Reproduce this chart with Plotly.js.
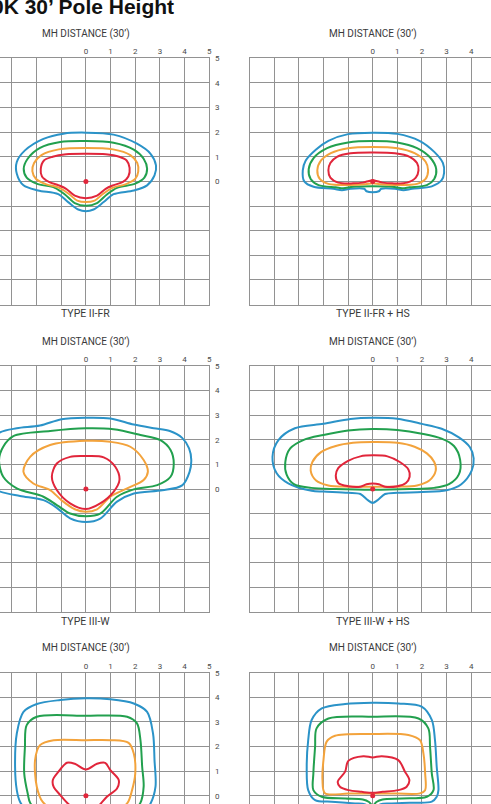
<!DOCTYPE html>
<html>
<head>
<meta charset="utf-8">
<script src="https://cdn.plot.ly/plotly-3.0.1.min.js"></script>
<style>
  html, body { margin: 0; padding: 0; background: #ffffff; }
  #chart { width: 491px; height: 804px; }
</style>
</head>
<body>
<div id="chart"></div>
<script>
// Isofootcandle contours, distances in mounting heights (MH = 30 ft).
// Each contour is a closed list of [x, y] points, clockwise from the top.

// TYPE II-FR
const iiFrBlue = [[0,1.98],[1.12,1.9],[2.07,1.53],[2.62,1.12],[2.84,0.65],[2.78,0.24],[2.48,-0.16],[1.94,-0.37],[1.12,-0.52],[0.72,-0.84],[0.31,-1.14],[0,-1.21],[-0.31,-1.14],[-0.72,-0.84],[-1.12,-0.52],[-1.94,-0.37],[-2.53,-0.16],[-2.8,0.31],[-2.8,0.79],[-2.47,1.26],[-1.72,1.73],[-0.91,1.94],[0,1.98]];
const iiFrGreen = [[0,1.64],[1.12,1.57],[1.94,1.29],[2.34,0.92],[2.48,0.51],[2.37,0.15],[2.0,-0.09],[1.26,-0.26],[0.85,-0.53],[0.45,-0.88],[0,-0.99],[-0.45,-0.88],[-0.85,-0.53],[-1.26,-0.26],[-2.0,-0.09],[-2.4,0.15],[-2.52,0.51],[-2.36,0.92],[-1.86,1.36],[-1.04,1.6],[0,1.64]];
const iiFrOrange = [[0,1.36],[1.1,1.3],[1.8,1.07],[2.08,0.75],[2.12,0.4],[2.0,0.1],[1.6,-0.12],[1.1,-0.25],[0.7,-0.5],[0.35,-0.78],[0,-0.84],[-0.35,-0.78],[-0.7,-0.5],[-1.1,-0.25],[-1.6,-0.12],[-2.02,0.1],[-2.17,0.42],[-2.1,0.75],[-1.8,1.07],[-1.1,1.3],[0,1.36]];
const iiFrRed = [[0,1.12],[0.8,1.1],[1.35,1.0],[1.65,0.85],[1.77,0.55],[1.72,0.2],[1.5,-0.02],[1.1,-0.16],[0.8,-0.3],[0.45,-0.58],[0,-0.68],[-0.45,-0.58],[-0.8,-0.3],[-1.1,-0.16],[-1.5,-0.02],[-1.78,0.2],[-1.83,0.5],[-1.7,0.85],[-1.35,1.0],[-0.8,1.1],[0,1.12]];

// TYPE II-FR + HS
const iiFrHsBlue = [[0,1.98],[1.0,1.93],[1.9,1.65],[2.5,1.2],[2.85,0.75],[2.9,0.35],[2.8,0.05],[2.4,-0.2],[1.6,-0.3],[1.25,-0.36],[0.9,-0.3],[0.35,-0.3],[0.25,-0.4],[0,-0.44],[-0.25,-0.4],[-0.35,-0.3],[-0.9,-0.3],[-1.25,-0.36],[-1.6,-0.3],[-2.4,-0.22],[-2.78,0.0],[-2.84,0.45],[-2.72,0.85],[-2.3,1.3],[-1.8,1.65],[-1.0,1.92],[0,1.98]];
const iiFrHsGreen = [[0,1.64],[1.0,1.58],[1.8,1.35],[2.35,0.95],[2.58,0.5],[2.5,0.1],[2.2,-0.15],[1.5,-0.24],[1.2,-0.28],[0.8,-0.22],[0,-0.2],[-0.8,-0.22],[-1.2,-0.28],[-1.5,-0.24],[-2.2,-0.15],[-2.52,0.1],[-2.6,0.5],[-2.4,0.95],[-1.85,1.35],[-1.0,1.58],[0,1.64]];
const iiFrHsOrange = [[0,1.4],[1.0,1.35],[1.7,1.15],[2.15,0.8],[2.25,0.45],[2.15,0.1],[1.8,-0.1],[1.0,-0.15],[0.3,-0.12],[0,-0.08],[-0.3,-0.12],[-1.0,-0.15],[-1.8,-0.1],[-2.15,0.1],[-2.25,0.45],[-2.1,0.85],[-1.7,1.15],[-1.0,1.35],[0,1.4]];
const iiFrHsRed = [[0,1.17],[0.9,1.14],[1.5,1.0],[1.8,0.75],[1.86,0.45],[1.75,0.15],[1.4,-0.05],[0.8,-0.08],[0.4,-0.05],[0.15,0.02],[0,0.05],[-0.15,0.02],[-0.4,-0.05],[-0.8,-0.08],[-1.4,-0.05],[-1.72,0.15],[-1.8,0.45],[-1.72,0.75],[-1.45,1.0],[-0.9,1.14],[0,1.17]];

// TYPE III-W
const iiiWBlue = [[0,2.9],[0.99,2.87],[1.94,2.62],[2.75,2.47],[3.4,2.36],[3.9,2.08],[4.18,1.65],[4.27,1.18],[4.2,0.7],[3.9,0.15],[3.1,-0.05],[1.94,-0.18],[1.26,-0.51],[0.58,-1.2],[0,-1.34],[-0.64,-1.19],[-1.18,-0.76],[-1.72,-0.45],[-2.67,-0.28],[-3.48,-0.1],[-4.0,0.2],[-4.25,0.9],[-4.1,1.7],[-3.48,2.3],[-2.8,2.47],[-1.86,2.58],[-0.99,2.84],[0,2.9]];
const iiiWGreen = [[0,2.47],[1.12,2.43],[2.21,2.2],[3.02,1.99],[3.43,1.59],[3.56,1.04],[3.43,0.5],[2.89,0.16],[1.94,-0.01],[1.26,-0.31],[0.58,-1.0],[0,-1.1],[-0.64,-0.99],[-1.18,-0.65],[-1.72,-0.31],[-2.8,0.03],[-3.35,0.5],[-3.52,1.18],[-3.35,1.72],[-2.94,2.15],[-1.45,2.36],[0,2.47]];
const iiiWOrange = [[0,1.96],[0.99,1.92],[1.8,1.72],[2.34,1.18],[2.51,0.7],[2.34,0.37],[1.67,0.03],[0.99,-0.31],[0.45,-0.82],[0,-0.92],[-0.45,-0.82],[-0.99,-0.45],[-1.45,-0.04],[-2.13,0.23],[-2.53,0.7],[-2.26,1.31],[-1.45,1.79],[0,1.96]];
const iiiWRed = [[0,1.34],[0.72,1.29],[1.19,0.91],[1.36,0.37],[1.12,-0.11],[0.58,-0.58],[0,-0.81],[-0.64,-0.58],[-1.18,-0.04],[-1.38,0.5],[-1.18,1.04],[-0.64,1.31],[0,1.34]];

// TYPE III-W + HS
const iiiWHsBlue = [[0,2.9],[1.0,2.86],[2.0,2.65],[2.8,2.45],[3.5,2.1],[3.95,1.7],[4.1,1.25],[4.02,0.75],[3.6,0.2],[3.0,-0.05],[2.0,-0.12],[1.0,-0.15],[0.5,-0.2],[0.2,-0.45],[0,-0.56],[-0.2,-0.45],[-0.5,-0.2],[-1.0,-0.15],[-2.0,-0.1],[-2.48,-0.07],[-3.43,0.23],[-3.9,0.64],[-4.07,1.31],[-3.83,1.99],[-3.16,2.47],[-2.0,2.65],[-0.9,2.85],[0,2.9]];
const iiiWHsGreen = [[0,2.44],[1.0,2.4],[2.0,2.25],[2.8,2.05],[3.3,1.75],[3.55,1.2],[3.5,0.6],[3.1,0.2],[2.5,0.05],[1.5,0.0],[0,-0.03],[-1.5,0.0],[-2.5,0.05],[-3.2,0.2],[-3.5,0.6],[-3.55,1.1],[-3.35,1.65],[-2.8,2.0],[-2.0,2.2],[-1.0,2.38],[0,2.44]];
const iiiWHsOrange = [[0,1.91],[1.0,1.88],[1.7,1.72],[2.2,1.45],[2.5,1.1],[2.56,0.75],[2.3,0.35],[1.8,0.15],[1.0,0.1],[0,0.1],[-1.0,0.1],[-1.8,0.15],[-2.3,0.35],[-2.52,0.75],[-2.45,1.1],[-2.1,1.5],[-1.5,1.75],[-0.8,1.88],[0,1.91]];
const iiiWHsRed = [[0,1.37],[0.6,1.33],[1.1,1.1],[1.45,0.8],[1.5,0.5],[1.35,0.25],[1.0,0.12],[0.5,0.1],[0.25,0.2],[0,0.23],[-0.25,0.2],[-0.5,0.1],[-1.0,0.12],[-1.4,0.25],[-1.5,0.55],[-1.4,0.85],[-1.0,1.15],[-0.5,1.33],[0,1.37]];

// Third row, left
const row3LeftBlue = [[0,3.96],[0.99,3.92],[1.94,3.75],[2.48,3.41],[2.72,2.53],[2.78,1.45],[2.82,0.37],[2.62,-0.31],[2.2,-0.8],[1.2,-1.2],[0,-1.4],[-1.2,-1.2],[-2.2,-0.8],[-2.67,-0.24],[-2.8,0.23],[-2.87,1.18],[-2.8,2.53],[-2.53,3.41],[-1.99,3.73],[-1.04,3.89],[0,3.96]];
const row3LeftGreen = [[0,3.25],[1.67,3.21],[2.07,2.94],[2.21,2.26],[2.28,1.18],[2.34,0.37],[2.2,-0.3],[1.6,-0.8],[0,-1.1],[-1.6,-0.8],[-2.25,-0.3],[-2.36,0.1],[-2.5,0.91],[-2.47,1.99],[-2.4,2.87],[-1.99,3.21],[0,3.25]];
const row3LeftOrange = [[0,2.26],[0.99,2.26],[1.73,2.15],[1.94,1.72],[2.0,0.91],[1.87,0.23],[1.67,-0.31],[1.0,-0.75],[0,-0.9],[-1.0,-0.75],[-1.75,-0.25],[-1.99,0.37],[-2.06,1.45],[-1.86,2.06],[-1.31,2.26],[0,2.26]];
const row3LeftRed = [[0,1.07],[0.45,1.3],[0.78,1.34],[0.99,1.04],[1.33,0.64],[1.26,0.3],[0.85,-0.04],[0.58,-0.34],[0.3,-0.55],[0,-0.6],[-0.3,-0.55],[-0.7,-0.34],[-1.04,0.03],[-1.31,0.37],[-1.34,0.64],[-1.11,0.98],[-0.77,1.34],[-0.45,1.3],[0,1.07]];

// Third row, right
const row3RightBlue = [[0,3.78],[1.04,3.75],[1.99,3.62],[2.4,3.08],[2.53,2.26],[2.6,1.18],[2.67,0.23],[2.6,-0.04],[2.4,-0.24],[1.5,-0.28],[0.7,-0.31],[0.3,-0.35],[0,-0.55],[-0.3,-0.35],[-0.72,-0.31],[-1.67,-0.24],[-2.34,-0.18],[-2.62,0.23],[-2.68,1.18],[-2.62,2.26],[-2.48,3.08],[-2.07,3.55],[-1.12,3.73],[0,3.78]];
const row3RightGreen = [[0,3.21],[1.86,3.14],[2.26,2.74],[2.33,1.99],[2.4,0.91],[2.47,0.23],[2.2,-0.04],[1.2,-0.11],[0.4,-0.15],[0.15,-0.25],[0,-0.4],[-0.15,-0.25],[-0.4,-0.15],[-1.12,-0.11],[-2.07,-0.04],[-2.41,0.23],[-2.41,0.91],[-2.34,1.99],[-2.28,2.74],[-1.8,3.14],[0,3.21]];
const row3RightOrange = [[0,2.51],[1.45,2.47],[1.92,2.26],[2.06,1.72],[2.13,0.91],[2.13,0.23],[1.92,0.1],[1.0,0.09],[0,0.09],[-1.0,0.09],[-1.94,0.1],[-2.04,0.64],[-2.0,1.45],[-1.87,2.2],[-1.53,2.44],[0,2.51]];
const row3RightRed = [[0,1.56],[0.37,1.61],[1.04,1.45],[1.31,0.98],[1.49,0.64],[1.38,0.37],[1.04,0.23],[0.4,0.16],[0,0.12],[-0.45,0.16],[-0.99,0.23],[-1.33,0.37],[-1.42,0.57],[-1.12,0.98],[-0.99,1.42],[-0.38,1.61],[0,1.56]];

// Pole location and axis ticks
const poleX = [0];
const poleY = [0];
const gridValues = [-5,-4,-3,-2,-1,0,1,2,3,4,5];
const tickText = gridValues.map(v => (v < 0 ? '' : String(v)));

const panelTitles = ['TYPE II-FR', 'TYPE II-FR + HS', 'TYPE III-W', 'TYPE III-W + HS'];
const axisLabel = 'MH DISTANCE (30’)';
const heading = '0K 30’ Pole Height';

const BLUE = '#2b93c8', GREEN = '#22a04e', ORANGE = '#f3a33c', RED = '#e1263b';

const panels = [
  [iiFrBlue, iiFrGreen, iiFrOrange, iiFrRed],
  [iiFrHsBlue, iiFrHsGreen, iiFrHsOrange, iiFrHsRed],
  [iiiWBlue, iiiWGreen, iiiWOrange, iiiWRed],
  [iiiWHsBlue, iiiWHsGreen, iiiWHsOrange, iiiWHsRed],
  [row3LeftBlue, row3LeftGreen, row3LeftOrange, row3LeftRed],
  [row3RightBlue, row3RightGreen, row3RightOrange, row3RightRed]
];
const colors = [BLUE, GREEN, ORANGE, RED];

// page geometry (pixels)
const W = 491, H = 804, U = 24.62;
const colGeom = [
  { px0: 0, px1: 209.3, range: [-85.7 / U, 5], ticks: true },
  { px0: 249.6, px1: 491, range: [-5, (491 - 372.7) / U], ticks: false }
];
const rowGeom = [
  { top: 58.3, bottom: 304.5, range: [-5, 5], full: true },
  { top: 366, bottom: 612.2, range: [-5, 5], full: true },
  { top: 672.7, bottom: 804, range: [5 - (804 - 672.7) / U, 5], full: false }
];

const traces = [];
const layout = {
  width: W, height: H,
  margin: { l: 0, r: 0, t: 0, b: 0 },
  paper_bgcolor: '#ffffff', plot_bgcolor: '#ffffff',
  showlegend: false,
  font: { family: 'Roboto, sans-serif', color: '#3a3a3a' },
  annotations: [],
};

const GRID = '#929292';
const tickFont = { family: 'Roboto, sans-serif', size: 8, color: '#4a4a4a' };

panels.forEach((contours, i) => {
  const n = i + 1;
  const col = colGeom[i % 2];
  const row = rowGeom[Math.floor(i / 2)];
  const xa = n === 1 ? 'x' : 'x' + n;
  const ya = n === 1 ? 'y' : 'y' + n;

  contours.forEach((pts, k) => {
    traces.push({
      type: 'scatter', mode: 'lines',
      x: pts.map(p => p[0]), y: pts.map(p => p[1]),
      xaxis: xa, yaxis: ya,
      line: { color: colors[k], width: 2, shape: 'spline', smoothing: 0.9 },
      hoverinfo: 'skip'
    });
  });
  traces.push({
    type: 'scatter', mode: 'markers', x: poleX, y: poleY,
    xaxis: xa, yaxis: ya,
    marker: { color: RED, size: 5 }, hoverinfo: 'skip'
  });

  layout['xaxis' + (n === 1 ? '' : n)] = {
    domain: [col.px0 / W, col.px1 / W],
    anchor: ya, range: col.range, side: 'top',
    tickmode: 'array', tickvals: gridValues, ticktext: tickText,
    showgrid: true, gridcolor: GRID, gridwidth: 1,
    zeroline: false, ticks: '',
    showline: true, linecolor: GRID, linewidth: 1, mirror: row.full,
    tickfont: tickFont, fixedrange: true
  };
  layout['yaxis' + (n === 1 ? '' : n)] = {
    domain: [1 - row.bottom / H, 1 - row.top / H],
    anchor: xa, range: row.range, side: col.ticks ? 'right' : 'left',
    tickmode: 'array', tickvals: gridValues, ticktext: tickText,
    showticklabels: col.ticks, ticklabelstandoff: 3,
    showgrid: true, gridcolor: GRID, gridwidth: 1,
    zeroline: false, ticks: '',
    showline: true, linecolor: GRID, linewidth: 1,
    tickfont: tickFont, fixedrange: true
  };

  // axis caption above each grid
  layout.annotations.push({
    text: axisLabel, xref: xa, x: 0, yref: 'paper', y: 1 - (row.top - 24.3) / H,
    xanchor: 'center', yanchor: 'middle', showarrow: false,
    font: { family: 'Roboto, sans-serif', size: 10, color: '#3a3a3a' }
  });
  // distribution name under the grid
  if (i < panelTitles.length) {
    layout.annotations.push({
      text: panelTitles[i], xref: xa, x: 0, yref: 'paper', y: 1 - (row.bottom + 9) / H,
      xanchor: 'center', yanchor: 'middle', showarrow: false,
      font: { family: 'Roboto, sans-serif', size: 10.5, color: '#3a3a3a' }
    });
  }
});

layout.annotations.push({
  text: '<b>' + heading + '</b>', xref: 'paper', yref: 'paper',
  x: -10 / W, y: 1 - 6 / H, xanchor: 'left', yanchor: 'middle', showarrow: false,
  font: { family: '"Liberation Sans", Arial, sans-serif', size: 21, color: '#111111' }
});

Plotly.newPlot('chart', traces, layout, { displayModeBar: false, staticPlot: true });
</script>
</body>
</html>
